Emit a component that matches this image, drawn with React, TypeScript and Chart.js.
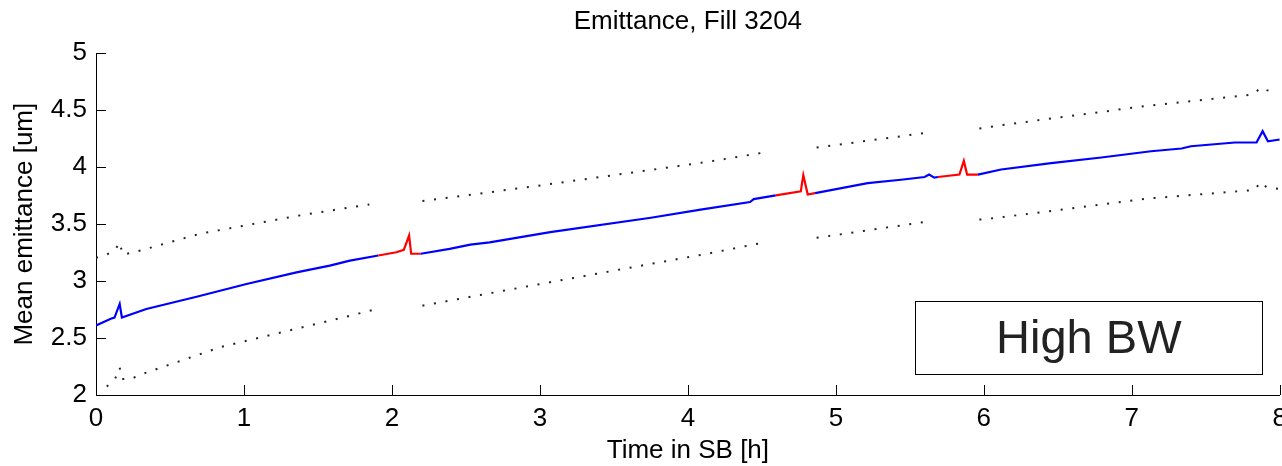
import React, { useEffect, useRef } from "react";
import { Chart, registerables } from "chart.js";

Chart.register(...registerables);

// Mean emittance (blue line, red where flagged)
const timeH = [
  0, 0.1, 0.125, 0.16, 0.175, 0.34, 0.68, 1.017, 1.355, 1.58, 1.716,
  1.908, 2.03, 2.08, 2.116, 2.13, 2.195, 2.39, 2.53, 2.66, 3.07, 3.75,
  4.086, 4.42, 4.445, 4.594, 4.763, 4.78, 4.81, 4.86, 5.215, 5.44, 5.6,
  5.63, 5.665, 5.69, 5.835, 5.865, 5.887, 5.96, 6.117, 6.455, 6.794, 7.13,
  7.336, 7.4, 7.697, 7.843, 7.884, 7.92, 8.0,
];
const emittance = [
  2.61, 2.67, 2.68, 2.8, 2.68, 2.755, 2.863, 2.975, 3.077, 3.136, 3.18,
  3.225, 3.253, 3.275, 3.4, 3.24, 3.24, 3.283, 3.32, 3.34, 3.43, 3.556,
  3.627, 3.694, 3.72, 3.753, 3.788, 3.93, 3.76, 3.773, 3.86, 3.89, 3.914,
  3.935, 3.908, 3.914, 3.935, 4.055, 3.935, 3.935, 3.98, 4.035, 4.085, 4.14,
  4.164, 4.184, 4.217, 4.217, 4.316, 4.228, 4.243,
];
const redFlag = [
  0, 0, 0, 0, 0, 0, 0, 0, 0, 0, 0,
  1, 1, 1, 1, 1, 0, 0, 0, 0, 0, 0,
  0, 0, 0, 1, 1, 1, 1, 0, 0, 0, 0,
  0, 0, 1, 1, 1, 1, 0, 0, 0, 0, 0,
  0, 0, 0, 0, 0, 0, 0,
];

// Dotted upper band (null = gap)
const upperTime = [
  0, 0.07, 0.13, 0.16, 0.18, 0.25, 0.7, 1.378, 1.847, null,
  2.206, 2.619, 3.003, 3.25, 4.13, 4.538, null,
  4.87, 5.6, null,
  5.97, 6.117, 7.087, 7.82, 7.873, 7.91, 7.98,
];
const upperValue = [
  3.204, 3.23, 3.275, 3.34, 3.233, 3.25, 3.415, 3.577, 3.673, null,
  3.703, 3.773, 3.84, 3.885, 4.046, 4.134, null,
  4.172, 4.3, null,
  4.34, 4.369, 4.536, 4.639, 4.7, 4.677, 4.653,
];

// Dotted lower band (null = gap)
const lowerTime = [
  0.073, 0.13, 0.16, 0.177, 0.234, 0.31, 0.848, 1.56, 1.874, null,
  2.206, 2.845, 3.725, 4.13, 4.526, null,
  4.87, 5.594, null,
  5.97, 6.117, 7.099, 7.83, 7.87, 7.91, 7.99,
];
const lowerValue = [
  2.074, 2.145, 2.24, 2.14, 2.14, 2.183, 2.423, 2.646, 2.747, null,
  2.784, 2.937, 3.145, 3.24, 3.342, null,
  3.38, 3.518, null,
  3.54, 3.56, 3.724, 3.8, 3.87, 3.826, 3.81,
];

const xTicks = [0, 1, 2, 3, 4, 5, 6, 7, 8];
const yTicks = [2, 2.5, 3, 3.5, 4, 4.5, 5];

const titleText = "Emittance, Fill 3204";
const xTitle = "Time in SB [h]";
const yTitle = "Mean emittance [um]";
const boxLabel = "High BW";
// label box extent in data units: [xMin, xMax, yMin, yMax]
const boxExtent = [5.537, 7.882, 2.183, 2.822];

const FONT = "'Liberation Sans', Arial, Helvetica, sans-serif";
const BLUE = "#0000ff";
const RED = "#ff0000";

const toXY = (xs: (number | null)[], ys: (number | null)[]) =>
  xs.map((x, i) => ({ x: x as any, y: ys[i] as any }));

const decorPlugin = {
  id: "decor",
  afterDraw(chart: any) {
    const { ctx, chartArea, scales } = chart;
    const xs = scales.x;
    const ys = scales.y;
    ctx.save();
    ctx.strokeStyle = "#000";
    ctx.lineWidth = 1;
    ctx.beginPath();
    xTicks.forEach((t) => {
      const px = Math.round(xs.getPixelForValue(t)) + 0.5;
      ctx.moveTo(px, chartArea.bottom);
      ctx.lineTo(px, chartArea.bottom - 10);
    });
    yTicks.forEach((t) => {
      const py = Math.round(ys.getPixelForValue(t)) + 0.5;
      ctx.moveTo(chartArea.left, py);
      ctx.lineTo(chartArea.left + 10, py);
    });
    ctx.stroke();

    const l = xs.getPixelForValue(boxExtent[0]);
    const r = xs.getPixelForValue(boxExtent[1]);
    const b = ys.getPixelForValue(boxExtent[2]);
    const t = ys.getPixelForValue(boxExtent[3]);
    ctx.fillStyle = "#fff";
    ctx.fillRect(l, t, r - l, b - t);
    ctx.strokeStyle = "#000";
    ctx.strokeRect(Math.round(l) + 0.5, Math.round(t) + 0.5, Math.round(r - l), Math.round(b - t));
    ctx.fillStyle = "#222";
    ctx.font = `47px ${FONT}`;
    ctx.textAlign = "center";
    ctx.textBaseline = "middle";
    ctx.fillText(boxLabel, (l + r) / 2, (t + b) / 2 + 2);
    ctx.restore();
  },
};

const fmt = (v: any) => String(Number(v));

export default function App() {
  const ref = useRef<HTMLCanvasElement>(null);
  useEffect(() => {
    if (!ref.current) return;
    const chart = new Chart(ref.current, {
      type: "line",
      data: {
        datasets: [
          {
            label: "upper",
            data: toXY(upperTime, upperValue),
            borderColor: "#222",
            borderWidth: 2,
            borderDash: [2, 9.7],
            pointRadius: 0,
            tension: 0,
            spanGaps: false,
          },
          {
            label: "lower",
            data: toXY(lowerTime, lowerValue),
            borderColor: "#222",
            borderWidth: 2,
            borderDash: [2, 9.7],
            pointRadius: 0,
            tension: 0,
            spanGaps: false,
          },
          {
            label: "emittance",
            data: toXY(timeH, emittance),
            borderColor: BLUE,
            borderWidth: 2.2,
            pointRadius: 0,
            tension: 0,
            segment: {
              borderColor: (c: any) => (redFlag[c.p0DataIndex] ? RED : BLUE),
            },
          },
        ],
      },
      options: {
        animation: false,
        responsive: false,
        devicePixelRatio: 1,
        layout: { padding: 0 },
        plugins: {
          legend: { display: false },
          tooltip: { enabled: false },
          title: {
            display: true,
            fullSize: false,
            text: titleText,
            color: "#000",
            font: { family: FONT, size: 26, weight: "normal" },
            padding: { top: 6.4, bottom: 15.7 },
          },
        },
        scales: {
          x: {
            type: "linear",
            min: 0,
            max: 8,
            afterBuildTicks: (s: any) => {
              s.ticks = xTicks.map((v) => ({ value: v }));
            },
            afterFit: (s: any) => {
              s.height = 71;
            },
            grid: { display: false, drawTicks: false },
            border: { display: true, color: "#000", width: 1 },
            ticks: {
              color: "#000",
              padding: 8,
              font: { family: FONT, size: 26 },
              maxRotation: 0,
              callback: fmt,
            },
            title: {
              display: true,
              text: xTitle,
              color: "#000",
              font: { family: FONT, size: 26 },
              padding: { top: 0, bottom: 0 },
            },
          },
          y: {
            type: "linear",
            min: 2,
            max: 5,
            afterBuildTicks: (s: any) => {
              s.ticks = yTicks.map((v) => ({ value: v }));
            },
            afterFit: (s: any) => {
              s.width = 96;
            },
            grid: { display: false, drawTicks: false },
            border: { display: true, color: "#000", width: 1 },
            ticks: {
              color: "#000",
              padding: 9,
              font: { family: FONT, size: 26 },
              callback: fmt,
            },
            title: {
              display: true,
              text: yTitle,
              color: "#000",
              font: { family: FONT, size: 26 },
              padding: { top: 9.4, bottom: 4 },
            },
          },
        },
      },
      plugins: [decorPlugin],
    } as any);
    return () => chart.destroy();
  }, []);

  return (
    <div
      style={{
        position: "fixed",
        left: 0,
        top: 0,
        width: 1295,
        height: 466,
        background: "#fff",
      }}
    >
      <canvas ref={ref} width={1295} height={466} style={{ display: "block" }} />
    </div>
  );
}
